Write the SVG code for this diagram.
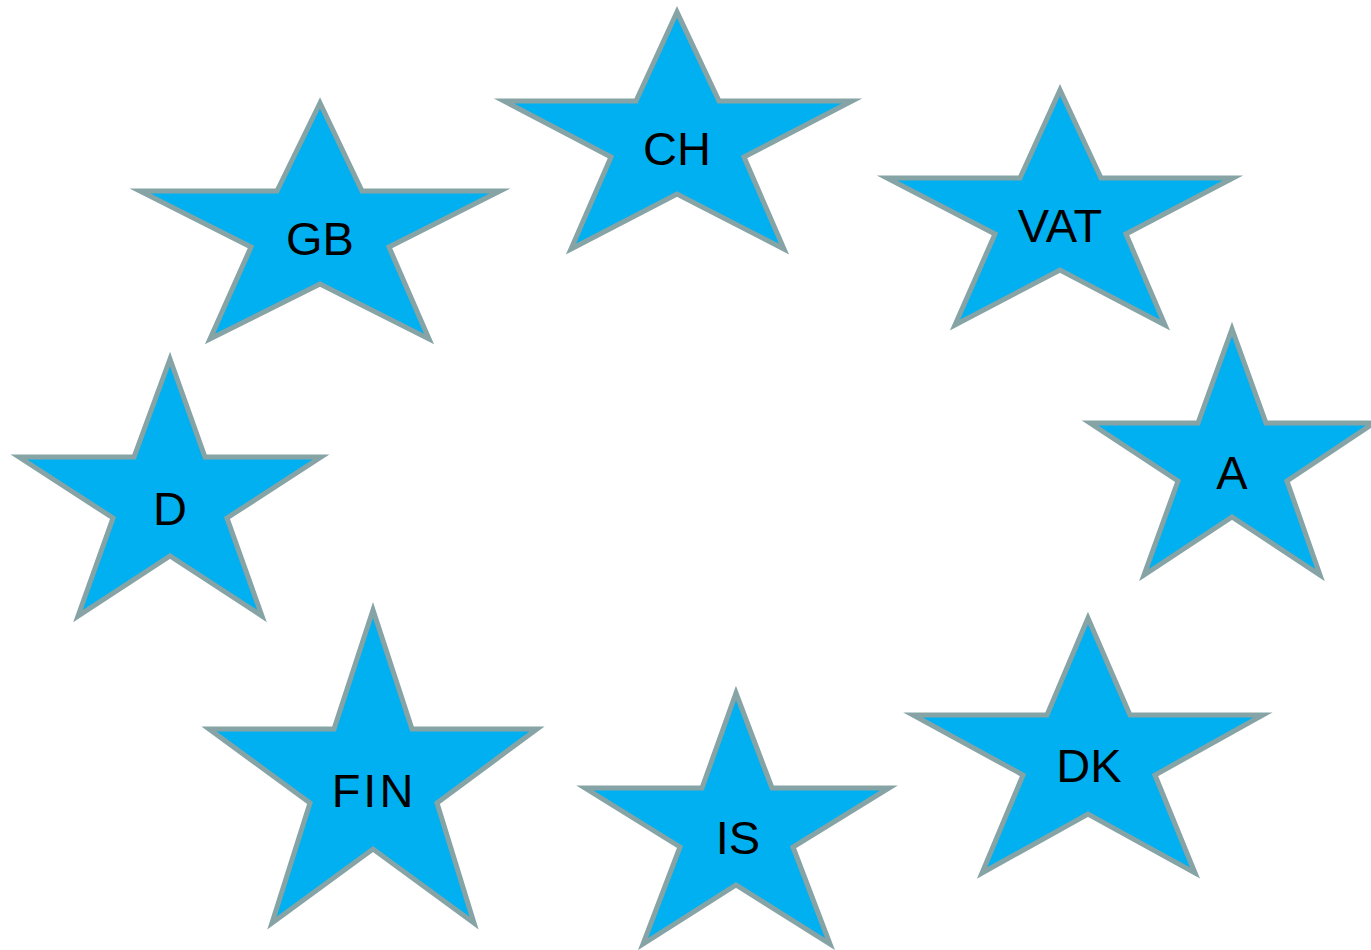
<svg xmlns="http://www.w3.org/2000/svg" width="1371" height="950" viewBox="0 0 1371 950">
<style>
.star{fill:#00B0F0;stroke:#86A3A5;stroke-width:5;stroke-linejoin:miter;stroke-miterlimit:10}
.lbl{font-family:"Liberation Sans",Arial,sans-serif;font-size:47px;fill:#000;text-anchor:middle}
</style>
<rect width="1371" height="950" fill="#fff"/>
<g id="connectors"></g>
<g id="CH"><polygon class="star" points="677,12 636,101 504,101 611,157 571,249 677,194 784,249 744,157 852,101 719,101"/><text class="lbl" x="677" y="165">CH</text></g>
<g id="GB"><polygon class="star" points="320,103 277,191 140,191 251,247 210,339 320,284 429,339 389,247 500,191 362,191"/><text class="lbl" x="320" y="255">GB</text></g>
<g id="VAT"><polygon class="star" points="1060,90 1020,178 887,178 995,234 955,325 1060,270 1165,325 1126,234 1233,178 1101,178"/><text class="lbl" x="1060" y="242">VAT</text></g>
<g id="D"><polygon class="star" points="170,359 134,457 19,457 113,518 78,616 170,556 262,616 227,518 321,457 205,457"/><text class="lbl" x="170" y="525">D</text></g>
<g id="A"><polygon class="star" points="1232,329 1198,423 1090,423 1178,481 1144,575 1232,517 1320,575 1287,481 1374,423 1266,423"/><text class="lbl" x="1232" y="489">A</text></g>
<g id="FIN"><polygon class="star" points="373,610 334,729 209,729 310,803 272,923 373,849 474,923 437,803 537,729 412,729"/><text class="lbl" x="374" y="807" letter-spacing="3">FIN</text></g>
<g id="IS"><polygon class="star" points="736,693 702,788 585,788 680,847 643,944 736,885 830,944 793,847 889,788 772,788"/><text class="lbl" x="738" y="854">IS</text></g>
<g id="DK"><polygon class="star" points="1088,618 1047,715 913,715 1023,775 982,873 1088,814 1195,873 1155,775 1263,715 1130,715"/><text class="lbl" x="1089" y="782">DK</text></g>
</svg>
